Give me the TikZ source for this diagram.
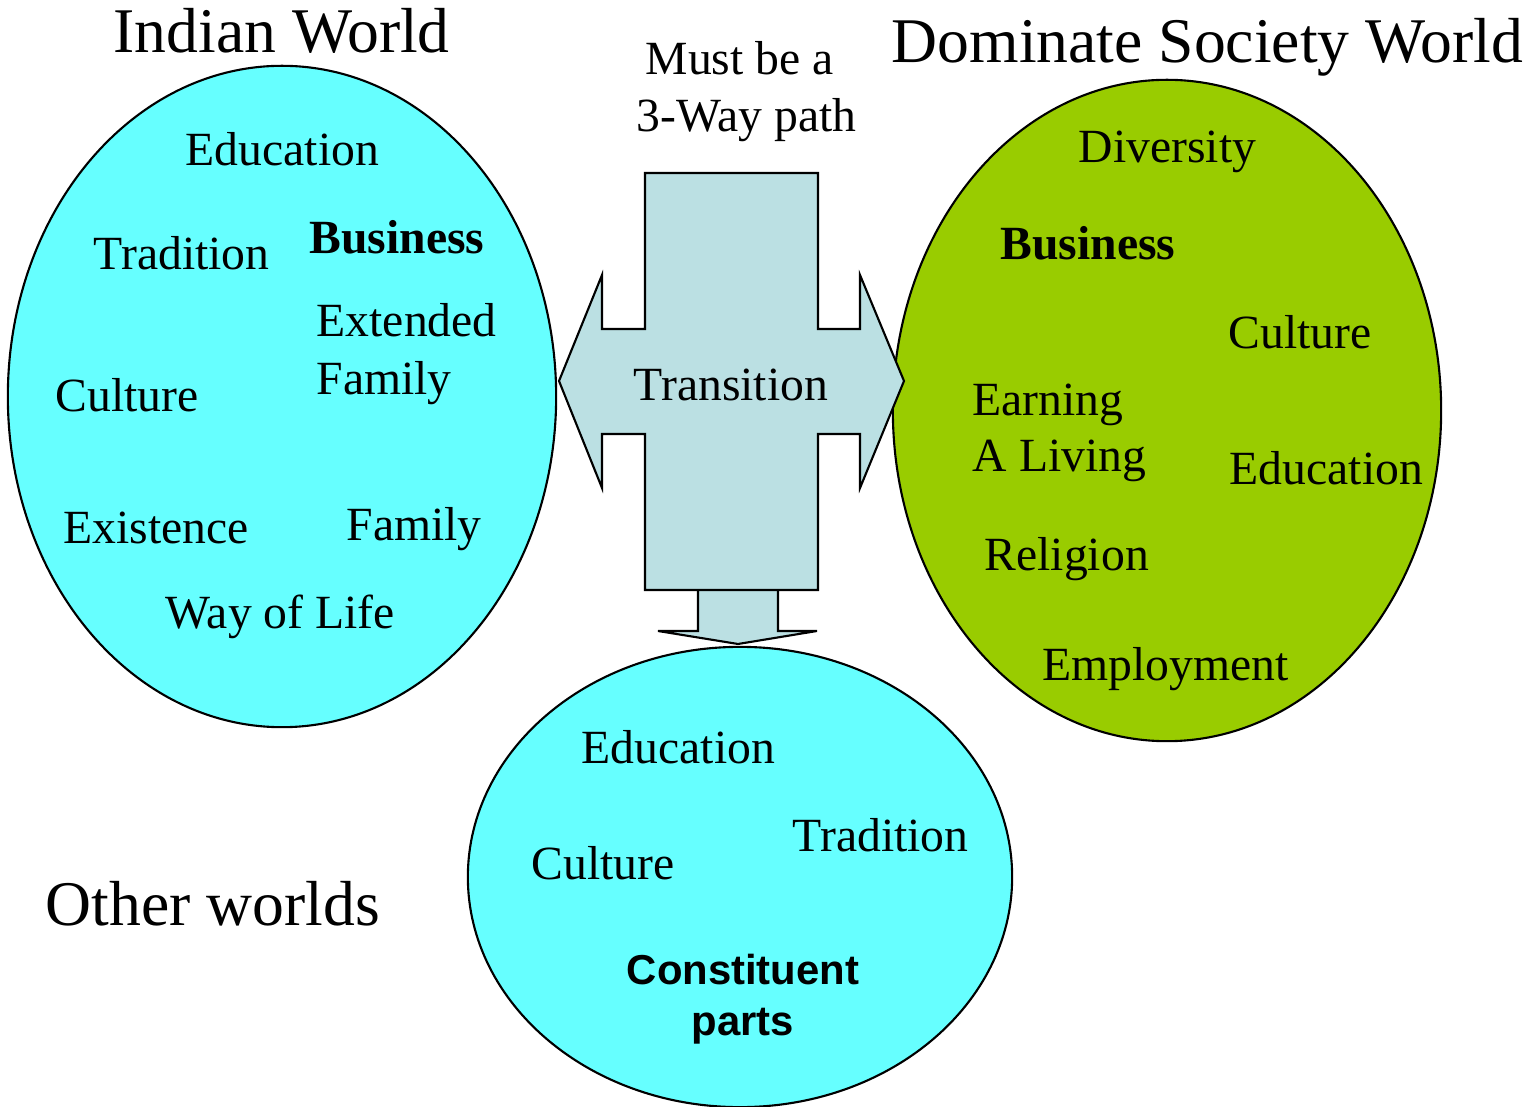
\documentclass[tikz,border=0pt]{standalone}
\usepackage{fontspec}
\setmainfont{Liberation Serif}
\newfontfamily\partsfont{Liberation Sans}
\usetikzlibrary{shapes.geometric}
\definecolor{worldcyan}{HTML}{66FFFF}
\definecolor{worldgreen}{HTML}{99CC00}
\definecolor{pathblue}{HTML}{BBE0E3}
\begin{document}
\begin{tikzpicture}[x=0.01cm, y=-0.01cm,
  world/.style={draw, ellipse, line width=0.6pt, inner sep=0pt},
  word/.style={anchor=base west, inner sep=0pt, font=\fontsize{13.55}{16}\selectfont},
  heading/.style={anchor=base west, inner sep=0pt, font=\fontsize{18.1}{21}\selectfont},
  blockarrow/.style={draw, line width=0.6pt, fill=pathblue, line join=miter}]
\useasboundingbox (0,0) rectangle (1540,1107);

% Worlds
\node[world, fill=worldcyan, minimum width=5.48cm, minimum height=6.61cm] (indian) at (282,396.5) {};
\node[world, fill=worldgreen, minimum width=5.48cm, minimum height=6.61cm] (dominate) at (1167,410.5) {};
\node[world, fill=worldcyan, minimum width=5.44cm, minimum height=4.60cm] (other) at (740,877) {};

% Headings
\node[heading] (indiantitle) at (113,53) {Indian World};
\node[heading] (dominatetitle) at (891,63) {Dominate Society World};
\node[heading] (othertitle) at (45,925) {Other worlds};
\node[word] (must) at (645,75) {Must be a};
\node[word] (threeway) at (636,132) {3-Way path};

% Transition arrows
\draw[blockarrow] (698,588) -- (778,588) -- (778,631) -- (817,631) -- (738,644)
  -- (658,631) -- (698,631) -- cycle;
\draw[blockarrow] (645,173) -- (818,173) -- (818,329) -- (860,329) -- (860,275)
  -- (904,381) -- (860,488) -- (860,434) -- (818,434) -- (818,590) -- (645,590)
  -- (645,434) -- (602,434) -- (602,488) -- (559,381) -- (602,275) -- (602,329)
  -- (645,329) -- cycle;
\node[word] (transition) at (633,401) {Transition};

% Indian World
\node[word] (ieducation) at (185,166) {Education};
\node[word] (itradition) at (93,270) {Tradition};
\node[word] (ibusiness) at (309,254) {\textbf{Business}};
\node[word] (iextended) at (316,337) {Extended};
\node[word] (iextfamily) at (316,395) {Family};
\node[word] (iculture) at (55,412) {Culture};
\node[word] (iexistence) at (63,544) {Existence};
\node[word] (ifamily) at (346,541) {Family};
\node[word] (iwayoflife) at (165,629) {Way of Life};

% Dominate Society World
\node[word] (ddiversity) at (1078,163) {Diversity};
\node[word] (dbusiness) at (1000,260) {\textbf{Business}};
\node[word] (dculture) at (1228,349) {Culture};
\node[word] (dearning) at (972,416) {Earning};
\node[word] (dliving) at (972,472) {A Living};
\node[word] (deducation) at (1229,485) {Education};
\node[word] (dreligion) at (984,571) {Religion};
\node[word] (demployment) at (1042,681) {Employment};

% Other worlds
\node[word] (oeducation) at (581,763) {Education};
\node[word] (otradition) at (792,851) {Tradition};
\node[word] (oculture) at (531,879) {Culture};
\node[anchor=base, inner sep=0pt, font=\partsfont\bfseries\fontsize{11.9}{14}\selectfont] (oconstituent) at (743,984) {Constituent};
\node[anchor=base, inner sep=0pt, font=\partsfont\bfseries\fontsize{11.9}{14}\selectfont] (oparts) at (743,1035) {parts};
\end{tikzpicture}
\end{document}
